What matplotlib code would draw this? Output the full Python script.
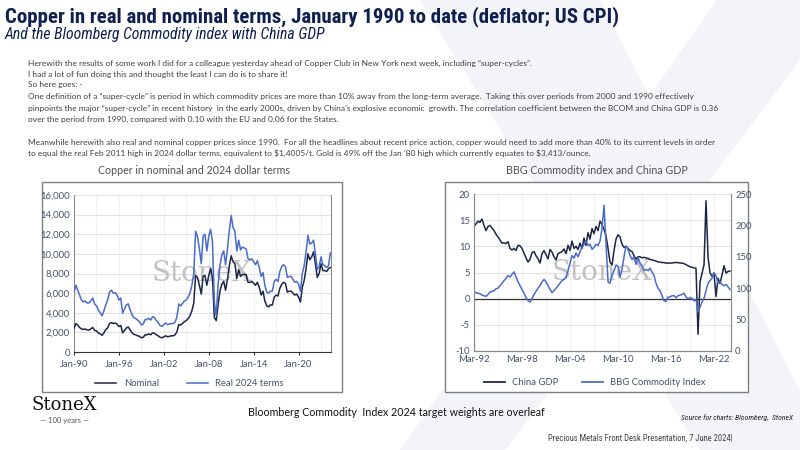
import matplotlib
matplotlib.use('Agg')
import matplotlib.pyplot as plt
import matplotlib.dates as mdates
from matplotlib import font_manager
from matplotlib.patches import Rectangle, Polygon
from matplotlib.lines import Line2D
import pandas as pd

plt.rcParams['axes.unicode_minus'] = False

# ---- data: copper, quarterly Jan-90 .. Apr-24 ($/t)
cobre_nominal = [
    2400, 2900, 2750, 2500, 2350, 2300, 2350, 2250, 2250, 2350, 2500, 2200,
    2150, 1950, 1850, 1700, 1950, 2300, 2450, 2900, 3000, 2900, 2950, 2850,
    2600, 2700, 1950, 2200, 2450, 2550, 2250, 1950, 1800, 1750, 1650, 1600,
    1450, 1500, 1750, 1750, 1850, 1750, 1950, 1900, 1750, 1650, 1500, 1450,
    1550, 1650, 1550, 1600, 1650, 1650, 1750, 2050, 2800, 2750, 2900, 3100,
    3200, 3400, 3700, 4200, 5000, 7800, 7600, 6800, 5900, 7700, 7800, 6800,
    7800, 8500, 7600, 3500, 3200, 4800, 6200, 6900, 7200, 6300, 7400, 8800,
    9800, 9200, 9000, 7500, 8400, 7700, 7900, 7900, 7900, 7100, 7100, 7200,
    7000, 6800, 7100, 6600, 5800, 6200, 5200, 4700, 4600, 4800, 4800, 5600,
    5800, 5700, 6500, 6900, 7100, 7000, 6100, 6200, 6200, 6000, 5800, 5900,
    5600, 5100, 6600, 7300, 8500, 10000, 9400, 9700, 10200, 9000, 7600, 8000,
    9000, 8300, 8300, 8200, 8500, 8600]
cobre_real = [
    6100, 6800, 6300, 5800, 5300, 5100, 5200, 5000, 5000, 5200, 5500, 4900,
    4700, 4300, 4000, 3700, 4200, 4800, 5300, 6100, 6300, 6000, 6050, 5800,
    5300, 5500, 3950, 4400, 4800, 4900, 4300, 3800, 3500, 3400, 3250, 3100,
    2750, 2850, 3300, 3300, 3450, 3250, 3600, 3500, 3200, 3000, 2700, 2600,
    2800, 2950, 2800, 2850, 2900, 2900, 3050, 3550, 4900, 4700, 4950, 5200,
    5300, 5600, 6000, 6800, 8000, 12300, 11800, 10500, 9000, 11800, 12000, 10300,
    11800, 12500, 11200, 5100, 3700, 6900, 8800, 9900, 10300, 8900, 10500, 12400,
    13900, 12700, 12300, 10300, 11400, 10400, 10700, 10600, 10500, 9500, 9400, 9500,
    9200, 8900, 9300, 8600, 7700, 8100, 6800, 6100, 6000, 6200, 6200, 7200,
    7400, 7200, 8200, 8700, 8900, 8700, 7600, 7700, 7700, 7400, 7100, 7200,
    6900, 6200, 8000, 8800, 10200, 11900, 11000, 11100, 11400, 10000, 8400, 8700,
    9700, 8900, 8800, 8600, 8800, 10100]
fechas_cobre = pd.date_range('1990-01-01', periods=len(cobre_nominal), freq='QS')
ticks_cobre = pd.date_range('1990-01-01', '2020-01-01', freq='6YS')
rejilla_cobre = pd.date_range('1990-01-01', '2023-01-01', freq='3YS')

# ---- data: China GDP y/y (%) and BBG commodity index, quarterly Mar-92 .. Mar-24
pib_china = [
    13.8, 14.3, 14.8, 14.6, 15.2, 14.0, 13.0, 13.8, 14.0, 13.5, 13.0, 12.3,
    11.8, 11.2, 10.6, 10.7, 10.5, 10.9, 9.6, 9.3, 9.6, 9.2, 10.2, 10.1,
    9.6, 8.7, 7.8, 7.0, 7.5, 8.8, 9.0, 8.2, 7.6, 6.8, 8.6, 9.2,
    8.4, 7.6, 9.4, 8.9, 8.0, 7.4, 8.6, 8.8, 9.0, 9.5, 8.6, 10.2,
    9.2, 11.0, 9.6, 10.0, 9.4, 10.6, 9.6, 11.6, 10.2, 12.6, 11.4, 13.4,
    12.4, 13.8, 13.0, 14.8, 14.2, 13.2, 12.0, 9.6, 7.0, 6.4, 9.2, 11.4,
    12.2, 11.8, 10.4, 9.8, 10.0, 9.6, 9.2, 9.0, 8.2, 7.6, 8.0, 8.0,
    7.8, 7.9, 7.8, 7.7, 7.5, 7.4, 7.3, 7.2, 7.0, 7.0, 6.9, 6.9,
    6.8, 6.8, 6.8, 6.8, 6.9, 6.9, 6.9, 6.8, 6.8, 6.7, 6.5, 6.3,
    6.1, 6.0, 5.9, 5.8, -6.8, 3.2, 4.9, 6.5, 18.7, 8.0, 4.9, 4.3,
    4.8, 0.4, 3.9, 2.9, 4.5, 6.3, 4.9, 5.2, 5.3]
indice_bbg = [
    94, 93, 92, 91, 89, 88, 87, 90, 94, 95, 96, 99,
    100, 104, 108, 112, 116, 120, 118, 122, 126, 118, 110, 104,
    98, 92, 85, 80, 78, 84, 90, 95, 100, 104, 110, 114,
    110, 104, 98, 93, 96, 100, 104, 108, 112, 114, 118, 128,
    140, 152, 148, 156, 150, 158, 165, 170, 175, 168, 170, 162,
    165, 170, 168, 175, 195, 232, 170, 110, 108, 120, 128, 137,
    135, 118, 130, 150, 167, 162, 152, 146, 150, 138, 148, 140,
    136, 128, 130, 128, 132, 126, 120, 108, 100, 96, 88, 80,
    79, 86, 86, 88, 88, 85, 88, 89, 90, 92, 86, 83,
    85, 84, 80, 82, 62, 70, 78, 84, 96, 108, 112, 116,
    125, 120, 108, 110, 106, 104, 106, 102, 98]
fechas_pib = pd.date_range('1992-03-01', periods=len(pib_china), freq='3MS')
ticks_pib = pd.date_range('1992-03-01', '2022-03-01', freq='6YS-MAR')
rejilla_pib = pd.date_range('1992-03-01', '2024-03-01', freq='3YS-MAR')

azul_osc = '#1c2747'
azul_cla = '#4a6bc8'
gris_txt = '#44546a'
W, H = 800, 450

# a narrow face for the headline if one is installed
nombres = {f.name for f in font_manager.fontManager.ttflist}
angosta = 'DejaVu Sans'
for cand in ['Roboto Condensed', 'Liberation Sans Narrow', 'Open Sans Condensed', 'Roboto']:
    if cand in nombres:
        angosta = cand
        break
cuerpo = ['Lato', 'Liberation Sans', 'DejaVu Sans']

def caja(x0, y0, x1, y1):
    # pixel box (top-left origin) -> figure fraction rect
    return [x0 / W, 1 - y1 / H, (x1 - x0) / W, (y1 - y0) / H]

fig = plt.figure(figsize=(8, 4.5), dpi=100)
fig.patch.set_facecolor('white')
rend = fig.canvas.get_renderer()

def ajustar(t, ancho):
    bb = t.get_window_extent(rend)
    t.set_fontsize(t.get_fontsize() * ancho / bb.width)
    return t.get_fontsize()

# faint big X in background
fondo = '#f3f4f7'
for pts in [[(420, 0), (600, 0), (830, 450), (700, 450)],
            [(717, 0), (800, 0), (800, 60), (505, 450), (400, 450)]]:
    fig.patches.append(Polygon([(x / W, 1 - y / H) for x, y in pts], closed=True,
                               transform=fig.transFigure, facecolor=fondo,
                               edgecolor='none', zorder=0))

t = fig.text(5 / W, 1 - 17 / H, 'Copper in real and nominal terms, January 1990 to date (deflator; US CPI)',
             fontsize=14, weight='bold', color='#0f2050', va='center', family=angosta)
ajustar(t, 617)
t = fig.text(5 / W, 1 - 34 / H, 'And the Bloomberg Commodity index with China GDP',
             fontsize=9, style='italic', color='#0f2050', va='center', family=angosta)
ajustar(t, 322)

lineas = [
    (63, 'Herewith the results of some work I did for a colleague yesterday ahead of Copper Club in New York next week, including \u201csuper-cycles\u201d.'),
    (74, 'I had a lot of fun doing this and thought the least I can do is to share it!'),
    (85, 'So here goes: -'),
    (97, 'One definition of a \u201csuper-cycle\u201d is period in which commodity prices are more than 10% away from the long-term average.  Taking this over periods from 2000 and 1990 effectively'),
    (108, 'pinpoints the major \u201csuper-cycle\u201d in recent history  in the early 2000s, driven by China\u2019s explosive economic  growth. The correlation coefficient between the BCOM and China GDP is 0.36'),
    (119, 'over the period from 1990, compared with 0.10 with the EU and 0.06 for the States.'),
    (142, 'Meanwhile herewith also real and nominal copper prices since 1990.  For all the headlines about recent price action, copper would need to add more than 40% to its current levels in order'),
    (153, 'to equal the real Feb 2011 high in 2024 dollar terms, equivalent to $1,4005/t. Gold is 49% off the Jan \u201980 high which currently equates to $3,413/ounce.'),
]
textos = []
for yy, s in lineas:
    textos.append(fig.text(28 / W, 1 - yy / H, s, fontsize=5.6, color='#404040', va='center',
                           family=cuerpo, parse_math=False))
tam = ajustar(textos[6], 685)
for t in textos:
    t.set_fontsize(tam)

# chart frames
for x0, x1 in [(42, 342), (445, 748)]:
    fig.patches.append(Rectangle((x0 / W, 1 - 392 / H), (x1 - x0) / W, (392 - 182) / H,
                                 transform=fig.transFigure, facecolor='white',
                                 edgecolor='#7f7f7f', linewidth=1.0, zorder=1))

t = fig.text(194 / W, 1 - 171 / H, 'Copper in nominal and 2024 dollar terms', fontsize=8,
             color='#505050', ha='center', va='center', family=cuerpo)
tam_tit = ajustar(t, 192)
fig.text(597 / W, 1 - 171 / H, 'BBG Commodity index and China GDP', fontsize=tam_tit,
         color='#505050', ha='center', va='center', family=cuerpo)

# ---- left chart
ax1 = fig.add_axes(caja(74, 195, 331, 352))
ax1.set_zorder(2)
ax1.plot(fechas_cobre, cobre_nominal, color=azul_osc, lw=1.1, label='Nominal', zorder=3)
ax1.plot(fechas_cobre, cobre_real, color=azul_cla, lw=1.1, label='Real 2024 terms', zorder=3)
ax1.set_ylim(0, 16000)
ax1.set_xlim(pd.Timestamp('1990-01-01'), pd.Timestamp('2024-05-01'))
ax1.set_yticks(range(0, 16001, 2000))
ax1.set_yticklabels([f'{v:,}' for v in range(0, 16001, 2000)])
ax1.set_xticks(ticks_cobre)
ax1.set_xticks(rejilla_cobre, minor=True)
ax1.xaxis.set_major_formatter(mdates.DateFormatter('%b-%y'))
ax1.grid(True, which='major', axis='y', color='#e2e2e2', lw=0.8)
ax1.grid(True, which='both', axis='x', color='#edf2f8', lw=0.8)
ax1.legend(loc='upper center', bbox_to_anchor=(0.45, -0.12), ncol=2, frameon=False,
           fontsize=6.8, handlelength=2.2, columnspacing=3, labelcolor=gris_txt,
           prop={'family': cuerpo, 'size': 6.8})
ax1.text(0.5, 0.5, 'StoneX', transform=ax1.transAxes, fontsize=20, family='DejaVu Serif',
         color='#b8b8b8', alpha=0.85, ha='center', va='center', zorder=2)

# ---- right chart
ax2 = fig.add_axes(caja(474, 194, 731, 351))
ax2.set_zorder(2)
ax2.plot(fechas_pib, pib_china, color=azul_osc, lw=1.1, label='China GDP', zorder=3)
ax2.set_ylim(-10, 20)
ax2.set_yticks(range(-10, 21, 5))
ax2.set_xlim(pd.Timestamp('1992-03-01'), pd.Timestamp('2024-04-15'))
ax2.set_xticks(ticks_pib)
ax2.set_xticks(rejilla_pib, minor=True)
ax2.xaxis.set_major_formatter(mdates.DateFormatter('%b-%y'))
ax2.grid(True, which='major', axis='y', color='#e2e2e2', lw=0.8)
ax2.grid(True, which='both', axis='x', color='#edf2f8', lw=0.8)
ax2.axhline(0, color='#333333', lw=0.9, zorder=2)
# tick marks sitting on the zero line
cero = ax2.secondary_xaxis(1 / 3)
cero.set_xticks(ticks_pib)
cero.tick_params(axis='x', direction='out', length=2.5, color='#333333', labelbottom=False,
                 labeltop=False, top=False, bottom=True)
cero.spines['bottom'].set_visible(False)
cero.spines['top'].set_visible(False)
ax2.text(0.5, 0.5, 'StoneX', transform=ax2.transAxes, fontsize=20, family='DejaVu Serif',
         color='#b8b8b8', alpha=0.85, ha='center', va='center', zorder=2)
ax2b = ax2.twinx()
ax2b.set_zorder(3)
ax2b.patch.set_visible(False)
ax2b.plot(fechas_pib, indice_bbg, color=azul_cla, lw=1.1, label='BBG Commodity Index')
ax2b.set_ylim(0, 250)
ax2b.set_yticks(range(0, 251, 50))
ax2.legend(handles=[Line2D([], [], color=azul_osc, lw=1.3), Line2D([], [], color=azul_cla, lw=1.3)],
           labels=['China GDP', 'BBG Commodity Index'],
           loc='upper center', bbox_to_anchor=(0.47, -0.12), ncol=2, frameon=False,
           handlelength=2.2, columnspacing=2.5, labelcolor=gris_txt,
           prop={'family': cuerpo, 'size': 6.8})

for ax in [ax1, ax2, ax2b]:
    ax.tick_params(labelsize=6.8, colors=gris_txt, length=0, pad=3)
    ax.tick_params(which='minor', length=0)
    for lab in ax.get_xticklabels() + ax.get_yticklabels():
        lab.set_family(cuerpo)
    for s in ax.spines.values():
        s.set_color('#8c8c8c')
        s.set_linewidth(0.8)
ax1.spines['bottom'].set_color('#333333')
ax2.spines['bottom'].set_color('#555555')
ax1.spines['top'].set_visible(False)
ax2.spines['top'].set_visible(False)
ax2b.spines['top'].set_visible(False)
ax1.tick_params(axis='x', which='major', length=2.5, color='#333333')

# ---- footer
fig.text(64 / W, 1 - 405 / H, 'StoneX', fontsize=13, family='DejaVu Serif', color='#111111',
         ha='center', va='center')
fig.text(64 / W, 1 - 421 / H, '\u2014 100 years \u2014', fontsize=5.5, color='#555555',
         ha='center', va='center', family=cuerpo)
t = fig.text(248 / W, 1 - 413 / H, 'Bloomberg Commodity  Index 2024 target weights are overleaf',
             fontsize=8.3, color='#111111', va='center', family=cuerpo)
ajustar(t, 293)
t = fig.text(793 / W, 1 - 418 / H, 'Source for charts: Bloomberg,  StoneX', fontsize=4.8,
             style='italic', color='#222222', ha='right', va='center', family=angosta)
ajustar(t, 112)
t = fig.text(733 / W, 1 - 438 / H, 'Precious Metals Front Desk Presentation, 7 June 2024|', fontsize=5.8,
             color='#444444', ha='right', va='center', family=angosta)
ajustar(t, 186)

fig.savefig('out.png', dpi=100)
